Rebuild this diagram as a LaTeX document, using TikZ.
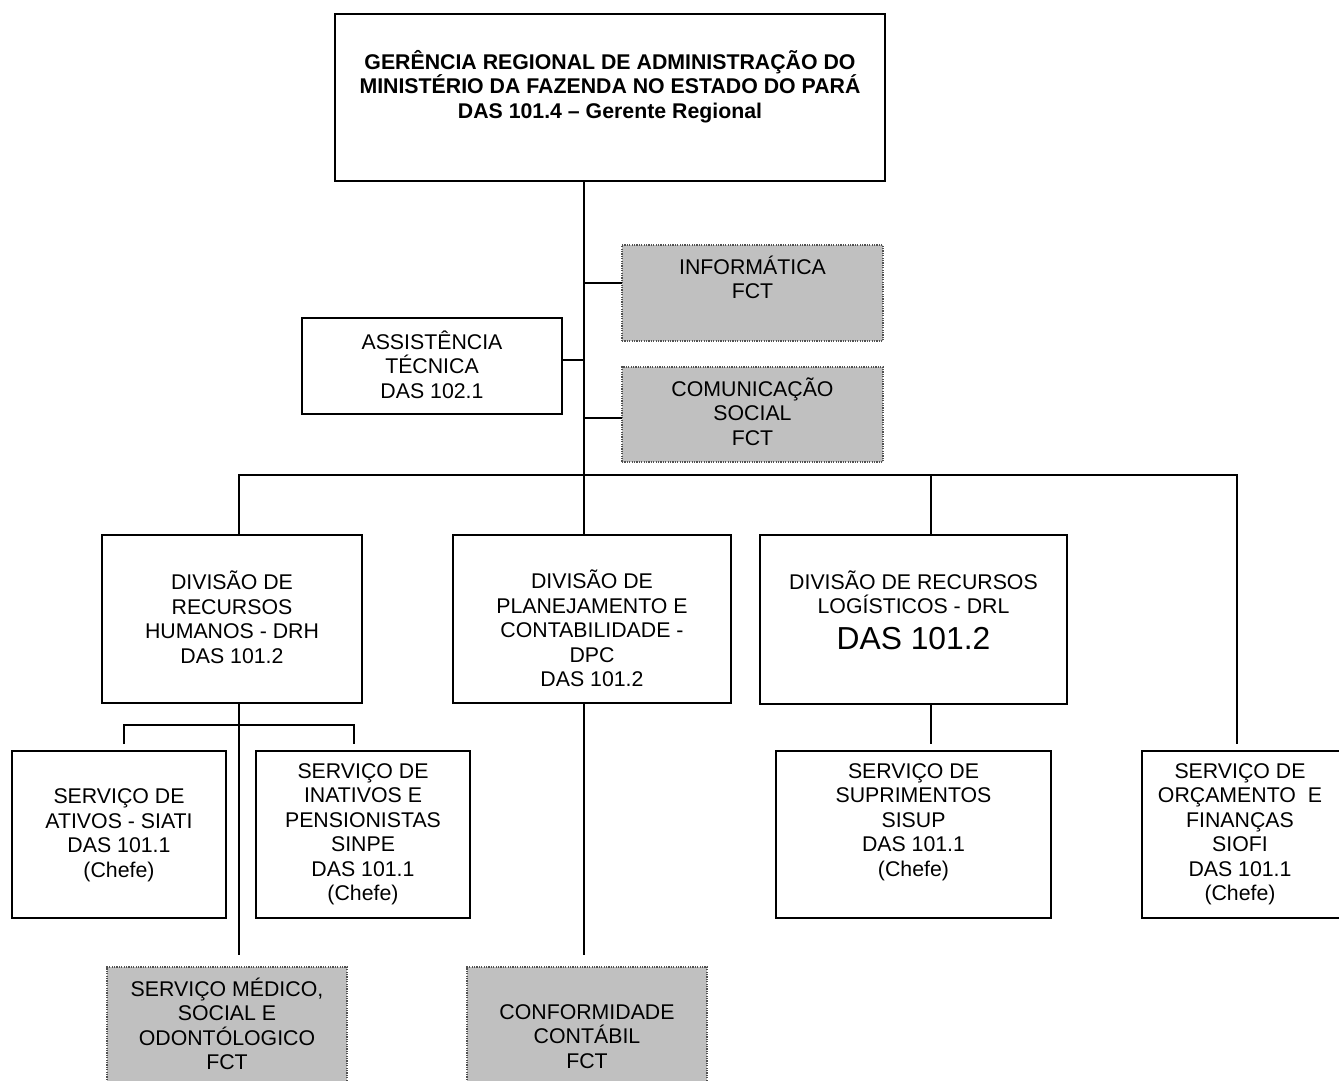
\documentclass[tikz,border=0pt]{standalone}
\usepackage{fontspec}
\setmainfont{Liberation Sans}
\definecolor{fctgray}{RGB}{192,192,192}
\definecolor{fctline}{RGB}{80,80,80}
\newcommand\orgfont{\fontsize{21.3}{24.5}\selectfont\lineskiplimit=-100pt\relax}
\begin{document}
\begin{tikzpicture}[x=1pt,y=-1pt,
  box/.style={draw, line width=2pt, inner sep=0pt, outer sep=0pt},
  fct/.style={draw=fctline, fill=fctgray, dash pattern=on 1.2pt off 1.2pt, line width=1.4pt, inner sep=0pt, outer sep=0pt},
  conn/.style={line width=2pt},
  txt/.style={align=center, inner sep=0pt, font=\orgfont,
    execute at begin node={\rule{0pt}{21pt}},
    execute at end node={\rule[-5.75pt]{0pt}{5.75pt}}},
  txtb/.style={txt, font={\orgfont\bfseries}},
]
\useasboundingbox (0,0) rectangle (1339,1081);

% boxes
\node[box, minimum width=550, minimum height=167] (top) at (610,97.5) {};
\node[fct, minimum width=261, minimum height=96] (info) at (752.5,293) {};
\node[box, minimum width=260, minimum height=96] (assist) at (432,366) {};
\node[fct, minimum width=261, minimum height=95] (comm) at (752.5,414.5) {};
\node[box, minimum width=260, minimum height=168] (drh) at (232,619) {};
\node[box, minimum width=278, minimum height=168] (dpc) at (592,619) {};
\node[box, minimum width=307, minimum height=169] (drl) at (913.5,619.5) {};
\node[box, minimum width=214, minimum height=167] (siati) at (119,834.5) {};
\node[box, minimum width=214, minimum height=167] (sinpe) at (363,834.5) {};
\node[box, minimum width=275, minimum height=167] (sisup) at (913.5,834.5) {};
\node[box, minimum width=218, minimum height=167] (siofi) at (1251,834.5) {};
\node[fct, minimum width=240, minimum height=133] (medico) at (227,1033.5) {};
\node[fct, minimum width=240, minimum height=133] (conf) at (587,1033.5) {};

% texts
\node[txtb] (ttop) at (610,87) {GERÊNCIA REGIONAL DE ADMINISTRAÇÃO DO\\MINISTÉRIO DA FAZENDA NO ESTADO DO PARÁ\\DAS 101.4 – Gerente Regional};
\node[txt] (tinfo) at (752.5,280) {INFORMÁTICA\\FCT};
\node[txt] (tassist) at (432,367.5) {ASSISTÊNCIA\\TÉCNICA\\DAS 102.1};
\node[txt] (tcomm) at (752.5,414.5) {COMUNICAÇÃO\\SOCIAL\\FCT};
\node[txt] (tdrh) at (232,620) {DIVISÃO DE\\RECURSOS\\HUMANOS - DRH\\DAS 101.2};
\node[txt] (tdpc) at (592,631.5) {DIVISÃO DE\\PLANEJAMENTO E\\CONTABILIDADE -\\DPC\\DAS 101.2};
\node[txt] (tdrl) at (913.5,595) {DIVISÃO DE RECURSOS\\LOGÍSTICOS - DRL};
\node[inner sep=0pt, anchor=base, font=\fontsize{31.8}{36}\selectfont] (tdrlb) at (913.5,649.4) {DAS 101.2};
\node[txt] (tsiati) at (119,835.7) {SERVIÇO DE\\ATIVOS - SIATI\\DAS 101.1\\(Chefe)};
\node[txt] (tsinpe) at (363,835) {SERVIÇO DE\\INATIVOS E\\PENSIONISTAS\\SINPE\\DAS 101.1\\(Chefe)};
\node[txt] (tsisup) at (913.5,822.5) {SERVIÇO DE\\SUPRIMENTOS\\SISUP\\DAS 101.1\\(Chefe)};
\node[txt] (tsiofi) at (1240,835) {SERVIÇO DE\\ORÇAMENTO~ E\\FINANÇAS\\SIOFI\\DAS 101.1\\(Chefe)};
\node[txt] (tmedico) at (227,1026.75) {SERVIÇO MÉDICO,\\SOCIAL E\\ODONTÓLOGICO\\FCT};
\node[txt] (tconf) at (587,1039) {CONFORMIDADE\\CONTÁBIL\\FCT};

% helper coordinates
\coordinate (tx) at (584,0);
\coordinate (yinfo) at (0,283);
\coordinate (yassist) at (0,360);
\coordinate (ycomm) at (0,418);
\coordinate (busL) at (239,475);
\coordinate (busR) at (1237,475);
\coordinate (xdrl) at (931,0);
\coordinate (subL) at (124,725);
\coordinate (subR) at (354,725);
\coordinate (ydrop) at (0,744);
\coordinate (ylow) at (0,955);

% connectors
\draw[conn] (top.south -| tx) -- (dpc.north -| tx);
\draw[conn] (info.west |- yinfo) -- (tx |- yinfo);
\draw[conn] (assist.east |- yassist) -- (tx |- yassist);
\draw[conn] (comm.west |- ycomm) -- (tx |- ycomm);
\draw[conn] (drh.north -| busL) -- (busL) -- (busR) -- (busR |- ydrop);
\draw[conn] (drl.north -| xdrl) -- (xdrl |- busL);
\draw[conn] (drl.south -| xdrl) -- (xdrl |- ydrop);
\draw[conn] (drh.south -| busL) -- (busL |- ylow);
\draw[conn] (dpc.south -| tx) -- (tx |- ylow);
\draw[conn] (subL |- ydrop) -- (subL) -- (subR) -- (subR |- ydrop);
\end{tikzpicture}
\end{document}
